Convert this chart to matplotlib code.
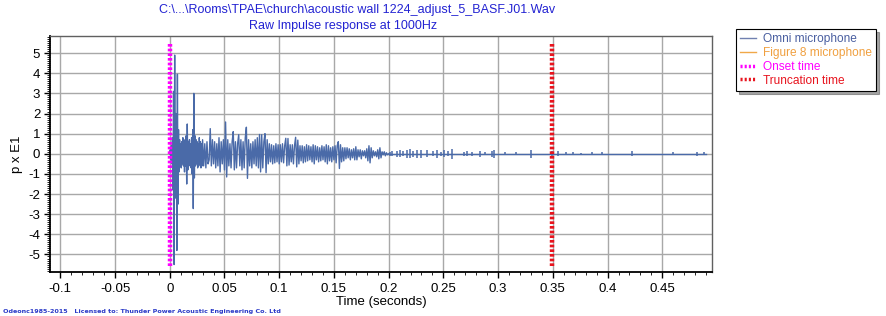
import numpy as np
import matplotlib
matplotlib.use("Agg")
import matplotlib.pyplot as plt
from matplotlib.lines import Line2D
from matplotlib.ticker import MultipleLocator

plt.rcParams['font.family'] = ['Liberation Sans', 'DejaVu Sans']

# ---------------- data ----------------
title_line1 = "C:\\...\\Rooms\\TPAE\\church\\acoustic wall 1224_adjust_5_BASF.J01.Wav"
title_line2 = "Raw Impulse response at 1000Hz"
footer_text = "Odeonc1985-2015   Licensed to: Thunder Power Acoustic Engineering Co. Ltd"
x_label = "Time (seconds)"
y_label = "p x E1"
legend_labels = ["Omni microphone", "Figure 8 microphone", "Onset time", "Truncation time"]

onset_time = 0.0
truncation_time = 0.349
marker_line_span = (-5.55, 5.45)

# early part, 0 .. 30 ms, 0.5 ms sampling
early_t_ms = [0.0, 0.5, 1.0, 1.5, 2.0, 2.5, 3.0, 3.5, 4.0, 4.5,
              5.0, 5.5, 6.0, 6.5, 7.0, 7.5, 8.0, 8.5, 9.0, 9.5,
              10.0, 10.5, 11.0, 11.5, 12.0, 12.5, 13.0, 13.5, 14.0, 14.5,
              15.0, 15.5, 16.0, 16.5, 17.0, 17.5, 18.0, 18.5, 19.0, 19.5,
              20.0, 20.5, 21.0, 21.5, 22.0, 22.5, 23.0, 23.5, 24.0, 24.5,
              25.0, 25.5, 26.0, 26.5, 27.0, 27.5, 28.0, 28.5, 29.0, 29.5, 30.0]
early_v = [0.0, 0.2, -0.3, 0.4, -0.5, 0.8, -1.8, 3.1, -5.5, 4.9,
           -2.2, 2.0, 1.5, -4.8, 3.95, -2.5, 1.2, -0.9, 0.7, -0.6,
           0.5, -0.7, 0.6, -0.5, 0.8, -0.6, 0.5, -0.9, 0.7, -0.6,
           0.9, -1.5, 1.48, -0.8, 0.6, -0.5, 0.7, -0.6, 0.5, -0.7,
           0.8, -1.0, 1.2, -2.72, 3.0, -1.2, 0.9, -0.6, 0.7, -0.5,
           0.6, -0.7, 0.5, -0.6, 0.8, -0.5, 0.6, -0.7, 0.5, -0.6, 0.7]

# middle part, 31 .. 200 ms, 1 ms sampling
mid_t_ms = list(range(31, 201))
mid_v = [-0.6, 0.5, -0.7, 0.6, -0.5, -0.3, 1.25, -0.6, 0.7, -0.5,
         0.6, -0.7, 0.5, -0.6, 0.8, -0.9, 0.6, -0.5, 0.7, -0.8,
         1.58, -1.15, 0.7, -0.6, 0.5, -0.7, 0.6, 1.1, -0.8, 0.6,
         -0.7, 0.5, 0.95, -0.6, 0.7, -0.8, 0.6, -0.7, 0.8, 1.32,
         -1.22, 0.7, -0.6, 0.5, -0.7, 0.6, -0.5, 0.7, -0.6, 0.8,
         -0.7, 0.96, -0.9, 0.95, -0.7, 0.6, 1.0, -0.94, 0.7, -0.5,
         0.5, -0.4, 0.45, -0.5, 0.4, -0.45, 0.5, -0.4, 0.45, -0.5,
         0.45, -0.4, 0.5, -0.45, 0.4, 0.77, -0.6, 0.76, -0.56, 0.45,
         -0.4, 0.45, -0.5, 0.4, 0.82, -0.65, 0.68, -0.5, 0.4, -0.35,
         0.4, -0.45, 0.35, -0.4, 0.45, -0.35, 0.4, -0.3, 0.35, -0.4,
         0.45, -0.5, 0.4, -0.3, 0.35, -0.4, 0.3, -0.35, 0.4, -0.3,
         0.35, -0.4, 0.45, -0.5, 0.4, -0.35, 0.3, -0.4, 0.35, -0.3,
         0.4, -0.45, 0.4, 0.6, -0.73, 0.45, -0.4, 0.3, -0.35, 0.3,
         -0.25, 0.3, -0.2, 0.25, -0.3, 0.2, -0.2, 0.25, -0.3, 0.35,
         -0.3, 0.2, -0.15, 0.2, -0.25, 0.15, -0.1, 0.15, -0.2, 0.25,
         -0.35, 0.4, -0.45, 0.3, -0.2, 0.15, -0.1, 0.1, -0.15, 0.2,
         -0.25, 0.3, -0.2, 0.1, -0.05, 0.1, -0.1, 0.05, -0.05, 0.0]

# late isolated blips (time in s, half amplitude)
tail_t = [0.2015, 0.2035, 0.2080, 0.2105, 0.2135, 0.2165, 0.2195, 0.2225, 0.2255, 0.2300,
          0.2348, 0.2405, 0.2440, 0.2475, 0.2505, 0.2545, 0.2580, 0.2685, 0.2715, 0.2765,
          0.2836, 0.2880, 0.2940, 0.2958, 0.3065, 0.3160, 0.3300, 0.3490, 0.3550, 0.3620,
          0.3686, 0.3760, 0.3857, 0.3950, 0.4220, 0.4600, 0.4817, 0.4877]
tail_a = [0.10, 0.12, 0.15, 0.18, 0.12, 0.20, 0.22, 0.15, 0.20, 0.20,
          0.18, 0.12, 0.20, 0.10, 0.18, 0.12, 0.25, 0.10, 0.12, 0.10,
          0.15, 0.08, 0.15, 0.20, 0.08, 0.08, 0.20, 0.15, 0.12, 0.08,
          0.08, 0.06, 0.08, 0.08, 0.12, 0.08, 0.10, 0.08]
signal_end = 0.490

# ---------------- figure ----------------
signal_color = "#4a6aa8"
fig = plt.figure(figsize=(8.86, 3.16), dpi=100)
ax = fig.add_axes([50/886, 1-272/316, (712-50)/886, (272-36)/316])

t_all = np.concatenate([np.array(early_t_ms), np.array(mid_t_ms)]) / 1000.0
v_all = np.concatenate([np.array(early_v), np.array(mid_v)])
ax.plot(t_all, v_all, color=signal_color, lw=1.0, zorder=3)
ax.plot([t_all[-1], signal_end], [0, 0], color=signal_color, lw=1.0, zorder=3)
ax.vlines(tail_t, -np.array(tail_a), np.array(tail_a), color=signal_color, lw=1.1, zorder=3)

ax.plot([onset_time, onset_time], marker_line_span, color="#ff00ff", lw=3.2,
        ls=(0, (0.6, 0.45)), zorder=4, dash_capstyle='butt')
ax.plot([truncation_time, truncation_time], marker_line_span, color="#e8141e", lw=3.2,
        ls=(0, (0.6, 0.45)), zorder=4, dash_capstyle='butt')

ax.set_xlim(-0.1094, 0.4954)
ax.set_ylim(-5.87, 5.85)
ax.xaxis.set_minor_locator(MultipleLocator(0.01))
ax.yaxis.set_minor_locator(MultipleLocator(0.1))
ax.set_xticks(np.arange(-0.1, 0.451, 0.05))
ax.set_xticklabels(["-0.1", "-0.05", "0", "0.05", "0.1", "0.15", "0.2", "0.25",
                    "0.3", "0.35", "0.4", "0.45"])
ax.set_yticks(np.arange(-5, 6, 1))
ax.set_yticklabels([str(v) for v in range(-5, 6)])
ax.grid(True, which='major', color="#a8a8a8", lw=1.0, zorder=0)
ax.set_axisbelow(True)
ax.tick_params(which='major', direction='out', length=4, width=1, labelsize=9.5,
               colors='black', pad=3)
ax.tick_params(which='minor', direction='out', length=2, width=0.6)
ax.tick_params(axis='x', which='major', pad=4)

for s in ['left', 'bottom']:
    ax.spines[s].set_color('black')
    ax.spines[s].set_linewidth(1.3)
for s in ['top', 'right']:
    ax.spines[s].set_color('#606060')
    ax.spines[s].set_linewidth(1.0)

ax.set_xlabel(x_label, fontsize=9.5, labelpad=1)
ax.set_ylabel(y_label, fontsize=9.5, labelpad=4)

title_color = "#2323d2"
fig.text(357/886, 1-13/316, title_line1, ha='center', va='baseline', fontsize=9.0, color=title_color)
fig.text(343/886, 1-29/316, title_line2, ha='center', va='baseline', fontsize=9.0, color=title_color)
fig.text(3/886, 1-313/316, footer_text, ha='left', va='baseline', fontsize=4.6,
         color="#2a3ac8", family=['DejaVu Sans'], fontweight='bold')

handles = [
    Line2D([0], [0], color="#7080b0", lw=1.0),
    Line2D([0], [0], color="#f0a848", lw=1.0),
    Line2D([0], [0], color="#ff00ff", lw=2.5, ls=(0, (0.6, 0.6))),
    Line2D([0], [0], color="#e8141e", lw=2.5, ls=(0, (0.6, 0.6))),
]
leg = fig.legend(handles, legend_labels, loc='upper left', bbox_to_anchor=(736/886, 1-29/316),
                 fontsize=8.6, frameon=True, fancybox=False, shadow=True,
                 handlelength=1.3, handletextpad=0.6, borderpad=0.35, labelspacing=0.15,
                 borderaxespad=0)
leg.get_frame().set_edgecolor('black')
leg.get_frame().set_linewidth(0.8)
for txt, c in zip(leg.get_texts(), ["#4a5fa0", "#f0a040", "#ff00ff", "#e8141e"]):
    txt.set_color(c)

fig.savefig("out.png", dpi=100)
